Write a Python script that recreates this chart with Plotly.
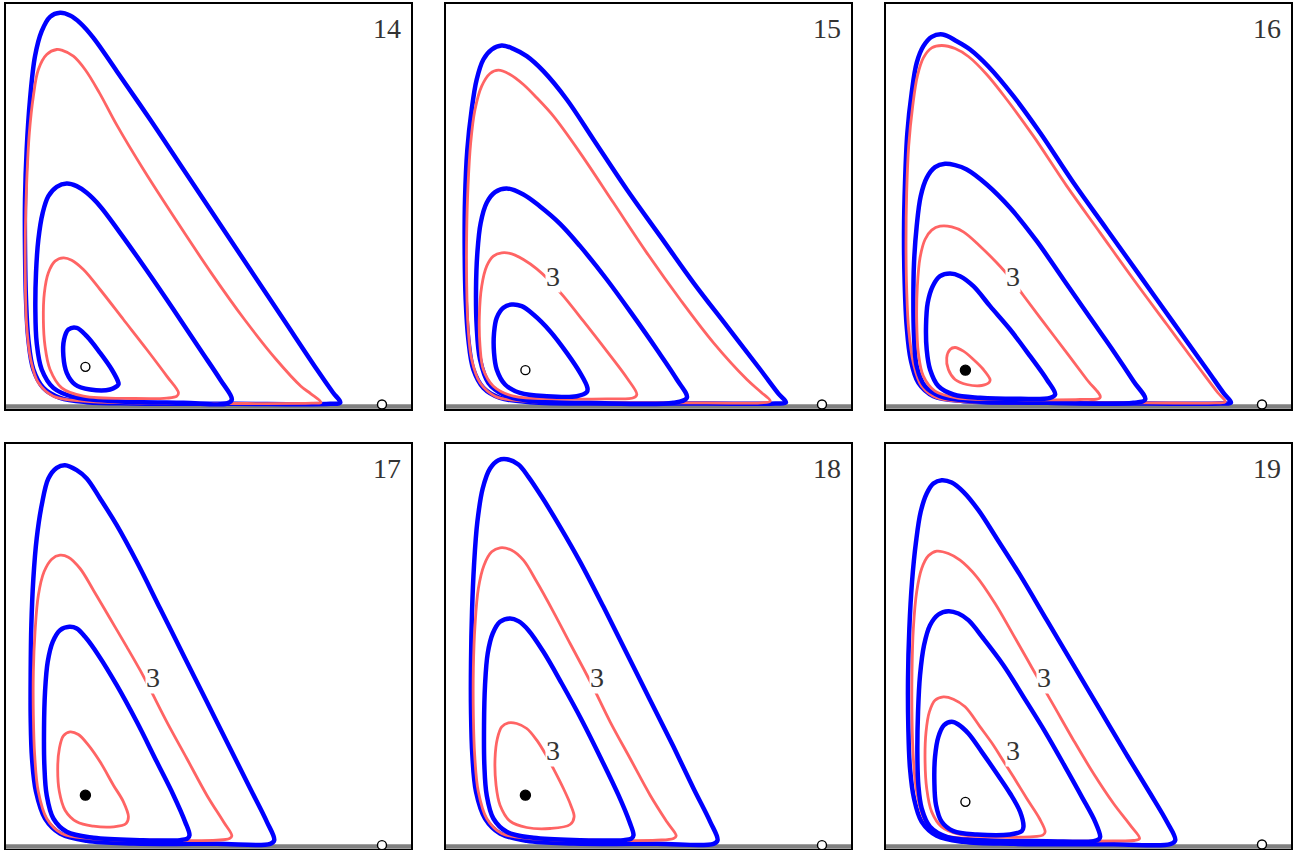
import plotly.graph_objects as go

# ---------------- data (x, y) in chart units ----------------
# Panel 14
p14_blue_outer = [(1020,12),(998,42),(950,111),(850,261),(750,411),(650,561),(550,711),(450,861),(350,1006),(280,1106),(240,1151),(210,1173),(180,1181),(150,1169),(125,1126),(105,1051),(90,921),(80,771),(75,621),(75,471),(78,321),(85,201),(100,111),(130,56),(180,26),(260,13),(400,9),(700,8),(990,8)]
p14_red_outer = [(962,12),(932,38),(902,61),(828,141),(733,261),(633,401),(533,551),(430,711),(352,841),(298,941),(255,1011),(220,1051),(185,1069),(170,1071),(140,1056),(115,1011),(100,931),(88,821),(80,671),(76,521),(76,371),(80,241),(92,141),(115,71),(160,31),(250,16),(400,11),(700,9),(935,10)]
p14_blue_mid = [(695,21),(660,81),(600,171),(520,291),(438,411),(360,521),(300,601),(260,641),(230,661),(200,669),(170,659),(145,631),(128,581),(115,501),(108,401),(106,291),(110,191),(125,111),(160,56),(220,29),(350,16),(550,11),(680,9)]
p14_red_inner = [(535,41),(500,91),(440,171),(370,261),(300,351),(250,411),(215,439),(190,446),(165,436),(145,401),(133,341),(130,261),(135,181),(150,111),(185,56),(250,31),(400,24),(500,25),(530,31)]
p14_blue_inner = [(355,71),(335,111),(300,161),(260,211),(230,236),(205,231),(192,201),(190,151),(200,101),(225,66),(270,51),(330,51),(355,66)]

# Panel 15
p15_blue_outer = [(1037,12),(1015,38),(960,111),(860,241),(760,371),(660,511),(560,651),(460,801),(380,921),(310,1006),(260,1051),(220,1073),(185,1083),(155,1071),(130,1041),(110,981),(95,891),(82,771),(75,621),(74,471),(77,321),(85,201),(100,111),(130,56),(180,26),(270,13),(500,9),(800,9),(1005,9)]
p15_red_outer = [(990,16),(960,45),(920,81),(820,191),(720,321),(620,461),(520,611),(420,761),(340,871),(290,926),(250,966),(210,996),(175,1009),(150,999),(125,961),(105,891),(92,791),(84,661),(80,521),(80,371),(84,241),(95,141),(120,71),(165,31),(250,16),(500,11),(800,11),(960,11)]
p15_blue_mid = [(740,26),(710,81),(650,171),(580,271),(500,381),(420,481),(360,548),(300,600),(250,636),(200,654),(165,643),(140,611),(122,551),(112,461),(108,351),(110,241),(120,141),(145,71),(190,36),(260,18),(450,11),(700,11)]
p15_red_inner = [(590,36),(560,86),(500,166),(430,256),(370,331),(330,376),(290,413),(250,441),(215,458),(185,461),(160,451),(140,421),(125,361),(118,271),(120,181),(130,111),(160,61),(220,31),(350,23),(500,23),(580,26)]
p15_blue_inner = [(442,56),(420,101),(380,161),(330,226),(280,276),(245,301),(215,306),(190,296),(170,266),(162,221),(162,161),(170,111),(195,66),(240,41),(320,31),(410,31),(440,43)]

# Panel 16
p16_blue_outer = [(1052,12),(1030,40),(980,111),(880,251),(780,391),(680,531),(580,671),(480,821),(400,931),(325,1020),(270,1071),(230,1096),(188,1116),(155,1109),(130,1081),(110,1031),(95,941),(82,821),(75,671),(72,521),(74,371),(80,241),(92,141),(115,71),(160,31),(250,16),(500,11),(800,9),(1020,9)]
p16_red_outer = [(1035,14),(1012,42),(960,111),(860,246),(760,381),(660,521),(560,661),(460,811),(380,921),(320,996),(265,1050),(225,1074),(185,1083),(155,1076),(130,1046),(112,991),(98,901),(86,781),(80,641),(78,491),(80,351),(86,231),(100,131),(125,61),(170,26),(260,14),(500,11),(800,11),(1005,11)]
p16_blue_mid = [(795,21),(760,76),(700,166),(630,266),(550,381),(470,496),(390,596),(320,666),(260,711),(225,724),(195,728),(165,718),(140,686),(122,631),(110,541),(102,431),(100,321),(102,211),(110,121),(135,61),(180,31),(280,16),(500,11),(760,11)]
p16_red_mid = [(660,27),(620,81),(560,161),(490,253),(430,333),(390,386),(350,431),(300,481),(250,524),(215,539),(180,541),(155,529),(135,501),(120,446),(112,361),(110,261),(115,161),(130,91),(165,46),(230,26),(400,21),(600,21)]
p16_blue_inner = [(525,36),(500,81),(450,151),(390,231),(330,301),(280,361),(240,391),(210,399),(180,391),(158,361),(143,311),(138,241),(140,171),(150,111),(175,61),(220,36),(300,26),(420,23),(510,26)]
p16_red_inner = [(330,81),(310,111),(280,141),(250,166),(225,177),(210,171),(200,146),(205,111),(225,81),(260,66),(305,63),(328,73)]

# Panel 17
p17_blue_outer = [(822,19),(800,74),(750,174),(690,294),(620,434),(550,574),(480,714),(410,854),(350,964),(300,1044),(260,1104),(230,1129),(195,1144),(170,1136),(145,1104),(125,1024),(110,924),(100,804),(94,664),(92,524),(92,384),(96,264),(108,164),(135,84),(180,39),(260,17),(400,9),(650,8),(810,8)]
p17_red_outer = [(695,32),(670,74),(620,154),(560,264),(500,374),(450,472),(420,529),(380,599),(330,684),(280,769),(240,834),(205,868),(180,874),(155,862),(132,824),(115,754),(105,644),(100,524),(100,394),(104,274),(115,164),(140,84),(185,39),(270,24),(450,19),(650,19),(688,24)]
p17_blue_mid = [(568,34),(555,74),(520,154),(470,254),(410,374),(350,484),(295,574),(255,629),(230,654),(208,659),(180,649),(158,614),(143,554),(135,464),(132,354),(133,244),(140,154),(160,84),(200,44),(280,26),(420,19),(540,19),(562,24)]
p17_red_inner = [(385,89),(370,134),(340,184),(300,254),(265,304),(235,336),(210,344),(190,332),(178,294),(173,234),(178,164),(195,109),(230,74),(280,61),(340,59),(378,69)]

# Panel 18
p18_blue_outer = [(832,19),(810,74),(760,174),(700,299),(630,439),(560,579),(490,719),(420,854),(360,959),(305,1049),(265,1109),(235,1146),(200,1162),(175,1159),(150,1134),(128,1074),(112,974),(102,844),(96,704),(93,554),(93,404),(97,274),(108,164),(135,84),(180,39),(260,17),(400,9),(650,8),(820,8)]
p18_red_outer = [(708,32),(680,74),(630,154),(570,264),(510,374),(462,472),(430,534),(390,609),(340,704),(290,794),(250,859),(215,889),(180,896),(155,884),(132,844),(115,774),(105,664),(100,534),(100,394),(104,274),(115,164),(140,84),(185,39),(270,24),(450,19),(650,19),(700,24)]
p18_blue_mid = [(580,34),(568,74),(535,154),(485,259),(425,379),(365,489),(310,584),(265,649),(235,676),(210,684),(180,674),(158,639),(143,579),(135,484),(132,364),(133,244),(140,154),(160,84),(200,44),(280,26),(420,19),(550,19),(574,24)]
p18_red_inner = [(402,89),(392,124),(370,174),(345,224),(318,274),(290,319),(260,354),(230,369),(205,371),(185,359),(172,324),(165,264),(168,184),(180,124),(210,76),(260,57),(330,54),(390,66)]

# Panel 19
p19_blue_outer = [(885,19),(860,74),(810,159),(740,274),(660,409),(580,544),(500,679),(420,814),(350,924),(295,1009),(250,1064),(215,1092),(185,1099),(160,1089),(140,1059),(122,1004),(108,914),(96,794),(88,654),(84,504),(85,354),(90,234),(102,144),(125,74),(170,32),(250,14),(400,8),(700,7),(870,7)]
p19_red_outer = [(778,24),(750,64),(700,129),(640,219),(580,319),(520,424),(475,502),(440,564),(400,634),(345,729),(290,809),(240,859),(205,879),(170,886),(145,872),(125,834),(110,764),(100,654),(96,524),(96,384),(100,264),(110,164),(132,84),(175,39),(260,24),(450,17),(700,17),(760,18)]
p19_blue_mid = [(660,29),(645,74),(605,149),(555,239),(495,344),(430,449),(370,544),(310,624),(265,679),(235,699),(205,706),(175,696),(150,664),(132,604),(120,514),(114,404),(112,284),(115,184),(125,114),(150,59),(200,29),(300,19),(500,16),(640,16),(656,22)]
p19_red_inner = [(495,44),(478,84),(440,144),(400,209),(365,264),(340,304),(300,359),(255,419),(220,442),(190,449),(165,439),(148,404),(138,344),(135,264),(140,174),(155,104),(185,59),(240,36),(340,29),(450,29),(488,34)]
p19_blue_inner = [(430,59),(420,104),(390,159),(350,219),(305,284),(265,339),(235,366),(215,374),(192,364),(175,329),(165,269),(163,194),(168,124),(185,74),(220,46),(290,36),(390,36),(425,46)]

# equilibria: (x, y, filled)
interior_eq = {"14": (256, 119, False), "15": (256, 109, False), "16": (256, 109, True),
               "17": (256, 154, True), "18": (256, 154, True), "19": (256, 134, False)}
boundary_eq = {"14": (1145, 6), "15": (1145, 6), "16": (1145, 6),
               "17": (1145, 4), "18": (1145, 4), "19": (1145, 6)}

panel_names = ["14", "15", "16", "17", "18", "19"]

curves = {
    "14": [(p14_blue_outer, "b"), (p14_red_outer, "r"), (p14_blue_mid, "b"), (p14_red_inner, "r"), (p14_blue_inner, "b")],
    "15": [(p15_blue_outer, "b"), (p15_red_outer, "r"), (p15_blue_mid, "b"), (p15_red_inner, "r"), (p15_blue_inner, "b")],
    "16": [(p16_blue_outer, "b"), (p16_red_outer, "r"), (p16_blue_mid, "b"), (p16_red_mid, "r"), (p16_blue_inner, "b"), (p16_red_inner, "r")],
    "17": [(p17_blue_outer, "b"), (p17_red_outer, "r"), (p17_blue_mid, "b"), (p17_red_inner, "r")],
    "18": [(p18_blue_outer, "b"), (p18_red_outer, "r"), (p18_blue_mid, "b"), (p18_red_inner, "r")],
    "19": [(p19_blue_outer, "b"), (p19_red_outer, "r"), (p19_blue_mid, "b"), (p19_red_inner, "r"), (p19_blue_inner, "b")],
}

contour_labels = {
    "14": [],
    "15": [(339, 391)],
    "16": [(400, 389)],
    "17": [(458, 506)],
    "18": [(470, 506), (338, 289)],
    "19": [(492, 506), (400, 289)],
}

X_RANGE = [18, 1232]
Y_RANGE = [-7.5, 1207.5]

# ---------------- figure ----------------
W, H = 1300, 850
col_px = [(6, 411), (446, 851), (886, 1291)]
row_px = [(4, 409), (444, 849)]

BLUE = "#0000ff"
RED = "#ff6464"
GREY = "#808080"
LABEL_FONT = dict(family="Liberation Serif, DejaVu Serif, serif", size=28, color="#333333")

fig = go.Figure()
layout = dict(width=W, height=H, margin=dict(l=0, r=0, t=0, b=0),
              paper_bgcolor="white", plot_bgcolor="white", showlegend=False)
annotations = []

for i, name in enumerate(panel_names):
    r, c = divmod(i, 3)
    ax = "" if i == 0 else str(i + 1)
    xref, yref = "x" + ax, "y" + ax
    x0, x1 = col_px[c]
    y0, y1 = row_px[r]
    common = dict(showgrid=False, zeroline=False, showticklabels=False, ticks="",
                  showline=True, mirror=True, linecolor="black", linewidth=1.6, fixedrange=True)
    layout["xaxis" + ax] = dict(domain=[x0 / W, x1 / W], range=X_RANGE, anchor=yref, **common)
    layout["yaxis" + ax] = dict(domain=[1 - y1 / H, 1 - y0 / H], range=Y_RANGE, anchor=xref, **common)

    # baseline (prey axis)
    fig.add_trace(go.Scatter(x=[X_RANGE[0], X_RANGE[1]], y=[0, 0], mode="lines",
                             line=dict(color=GREY, width=4.5), xaxis=xref, yaxis=yref,
                             hoverinfo="skip"))

    for pts, col in curves[name]:
        xs = [p[0] for p in pts] + [pts[0][0]]
        ys = [p[1] for p in pts] + [pts[0][1]]
        fig.add_trace(go.Scatter(
            x=xs, y=ys, mode="lines",
            line=dict(color=BLUE if col == "b" else RED, width=4.5 if col == "b" else 2.8,
                      shape="spline", smoothing=1.0),
            xaxis=xref, yaxis=yref, hoverinfo="skip"))

    ex, ey, filled = interior_eq[name]
    fig.add_trace(go.Scatter(
        x=[ex], y=[ey], mode="markers",
        marker=dict(size=10 if filled else 9, color="black" if filled else "white",
                    line=dict(color="black", width=1.4)),
        xaxis=xref, yaxis=yref, hoverinfo="skip"))
    bx, by = boundary_eq[name]
    fig.add_trace(go.Scatter(
        x=[bx], y=[by], mode="markers",
        marker=dict(size=9, color="white", line=dict(color="black", width=1.4)),
        xaxis=xref, yaxis=yref, hoverinfo="skip", cliponaxis=False))

    annotations.append(dict(x=1207, y=1135, xref=xref, yref=yref, text=name, showarrow=False,
                            xanchor="right", yanchor="middle", font=LABEL_FONT))
    for lx, ly in contour_labels[name]:
        annotations.append(dict(x=lx, y=ly, xref=xref, yref=yref, text="3", showarrow=False,
                                xanchor="center", yanchor="middle", font=LABEL_FONT,
                                bgcolor="white", borderpad=0))

layout["annotations"] = annotations
fig.update_layout(**layout)
fig.write_html("out.html", config={"displayModeBar": False},
               post_script="document.body.style.margin='0px';document.body.style.overflow='hidden';")
